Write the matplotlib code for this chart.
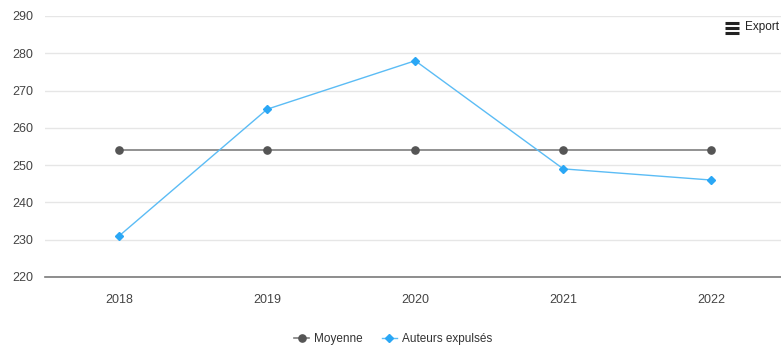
import matplotlib.pyplot as plt
from matplotlib.lines import Line2D

plt.rcParams["font.family"] = ["Liberation Sans", "DejaVu Sans"]

years = ["2018", "2019", "2020", "2021", "2022"]
moyenne = [254, 254, 254, 254, 254]
auteurs = [231, 265, 278, 249, 246]
yticks = [220, 230, 240, 250, 260, 270, 280, 290]

W, H = 781, 345
fig = plt.figure(figsize=(W / 100, H / 100), dpi=100)
ax = fig.add_axes([45 / W, 68 / H, (W - 45) / W, 261 / H])

x = list(range(len(years)))
ax.plot(x, moyenne, color="#7f7f7f", linewidth=1.2, marker="o",
        markersize=5.2, markerfacecolor="#555555", markeredgecolor="#555555", zorder=3)
ax.plot(x, auteurs, color="#5bbcf5", linewidth=1, marker="D",
        markersize=4, markerfacecolor="#2aa7f5", markeredgecolor="#2aa7f5", zorder=4)

ax.set_xlim(-0.5, 4.47)
ax.set_ylim(220, 290)
ax.set_xticks(x)
ax.set_xticklabels(years)
ax.set_yticks(yticks)
ax.tick_params(axis="both", length=0, labelsize=9, labelcolor="#444444")
ax.tick_params(axis="x", pad=12)
ax.tick_params(axis="y", pad=8.5)

ax.grid(axis="y", color="#e6e6e6", linewidth=1)
ax.set_axisbelow(True)
for side in ["top", "right", "left"]:
    ax.spines[side].set_visible(False)
ax.spines["bottom"].set_color("#7a7a7a")
ax.spines["bottom"].set_linewidth(1.2)

# export button
for dy in (-5, 0, 5):
    fig.add_artist(Line2D([725 / W, 739 / W], [(H - 28 + dy) / H] * 2,
                          color="#222222", linewidth=2.2, solid_capstyle="butt"))
fig.text(745 / W, (H - 27) / H, "Export", fontsize=8.5, color="#222222", va="center")

handles = [
    Line2D([], [], color="#7f7f7f", linewidth=1.2, marker="o", markersize=5.2,
           markerfacecolor="#555555", markeredgecolor="#555555"),
    Line2D([], [], color="#5bbcf5", linewidth=1, marker="D", markersize=4,
           markerfacecolor="#2aa7f5", markeredgecolor="#2aa7f5"),
]
fig.legend(handles, ["Moyenne", "Auteurs expulsés"], loc="center",
           bbox_to_anchor=(393 / W, 6 / H), ncol=2, frameon=False,
           fontsize=8.5, handlelength=1.3, handletextpad=0.4, columnspacing=1.6,
           labelcolor="#333333")

fig.savefig("out.png", dpi=100)
